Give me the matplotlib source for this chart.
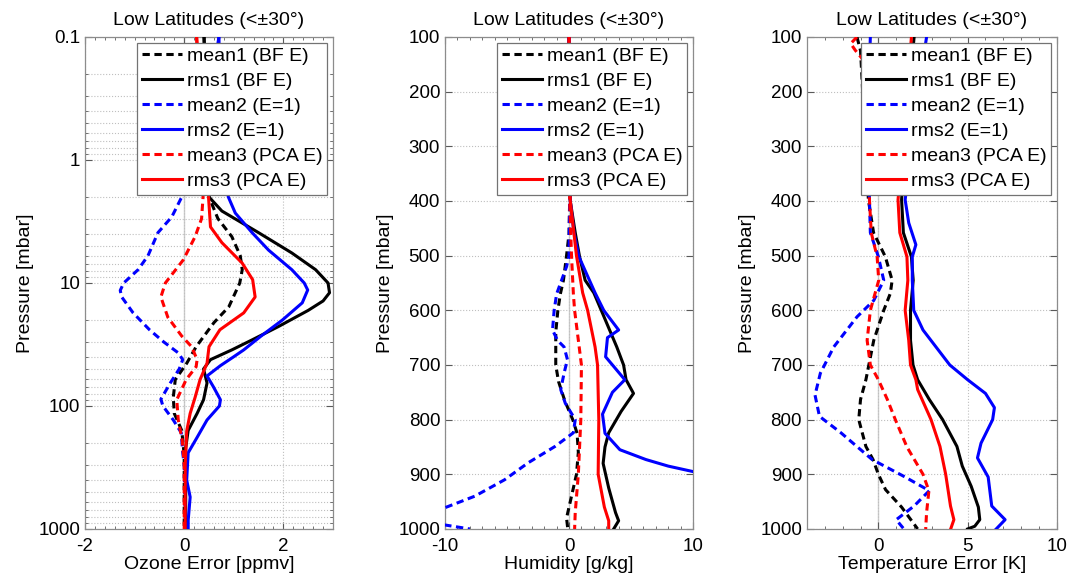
import numpy as np
import matplotlib
matplotlib.use("Agg")
import matplotlib.pyplot as plt

plt.rcParams["font.family"] = ["Liberation Sans", "DejaVu Sans"]
plt.rcParams["axes.unicode_minus"] = False

# ── Ozone panel (pressure in mbar, error in ppmv) ───────────────────────────
oz_p_mean1 = [0.1, 1, 2, 3, 4.2, 6, 7.8, 10, 15.6, 21, 33, 45, 61, 85, 115, 158, 250, 1000]
oz_mean1 = [0.4, 0.5, 0.5, 0.68, 0.96, 1.13, 1.17, 1.12, 0.9, 0.6, 0.24, 0.05, -0.18, -0.22, -0.2, -0.05, 0.0, 0.0]
oz_p_rms1 = [0.1, 1, 2, 2.6, 3.9, 5.7, 7.8, 10, 12, 14, 16.7, 22.6, 29, 35, 42, 50, 65, 89, 115, 158, 220, 1000]
oz_rms1 = [0.4, 0.45, 0.5, 0.76, 1.5, 2.17, 2.65, 2.9, 2.93, 2.8, 2.5, 1.9, 1.37, 0.96, 0.53, 0.39, 0.46, 0.39, 0.26, 0.08, 0.03, 0.03]
oz_p_mean2 = [0.1, 1, 2, 2.9, 3.9, 6, 7.8, 10, 11.5, 13, 17.5, 24, 30, 37, 42, 50, 65, 88, 100, 130, 165, 240, 300, 1000]
oz_mean2 = [0.7, 0.3, -0.05, -0.25, -0.53, -0.73, -0.93, -1.22, -1.29, -1.26, -1.03, -0.7, -0.42, -0.12, -0.03, -0.1, -0.28, -0.47, -0.43, -0.22, -0.06, -0.03, 0.0, 0.02]
oz_p_rms2 = [0.1, 1, 2, 2.7, 3.9, 5.4, 7.8, 10, 11.4, 14.5, 20, 27, 35, 40, 47, 57, 70, 89, 100, 130, 180, 240, 400, 550, 850, 1000]
oz_rms2 = [0.7, 0.75, 0.89, 1.03, 1.37, 1.7, 2.17, 2.42, 2.49, 2.38, 1.98, 1.55, 1.2, 0.99, 0.73, 0.46, 0.59, 0.73, 0.71, 0.46, 0.26, 0.08, 0.05, 0.12, 0.08, 0.08]
oz_p_mean3 = [0.1, 1, 2, 3, 4.2, 6.5, 10, 13, 19, 27, 33, 42, 48, 61, 89, 130, 190, 300, 1000]
oz_mean3 = [0.25, 0.35, 0.38, 0.35, 0.22, -0.02, -0.38, -0.47, -0.33, -0.05, 0.15, 0.26, 0.24, 0.04, -0.15, -0.12, -0.04, 0.0, 0.0]
oz_p_rms3 = [0.1, 1, 2, 3.5, 4.7, 6.9, 9.4, 13, 17.5, 24, 33, 45, 61, 85, 115, 160, 300, 1000]
oz_rms3 = [0.25, 0.45, 0.49, 0.53, 0.76, 1.17, 1.38, 1.43, 1.2, 0.72, 0.5, 0.46, 0.32, 0.22, 0.12, 0.05, 0.02, 0.02]

# ── Humidity panel (g/kg) ───────────────────────────────────────────────────
hu_p_mean1 = [100, 400, 460, 500, 545, 570, 600, 640, 700, 730, 765, 800, 825, 860, 900, 940, 980, 1000]
hu_mean1 = [0.0, 0.05, 0.0, -0.2, -0.45, -0.7, -0.9, -1.07, -1.07, -0.85, -0.35, 0.3, 0.65, 0.75, 0.6, 0.2, -0.2, -0.1]
hu_p_rms1 = [100, 400, 458, 502, 545, 568, 600, 667, 700, 727, 752, 785, 824, 850, 880, 925, 970, 985, 1000]
hu_rms1 = [0.0, 0.1, 0.5, 0.85, 1.3, 2.0, 2.6, 3.85, 4.4, 4.6, 5.2, 4.2, 3.2, 2.9, 2.75, 3.2, 3.75, 4.0, 3.6]
hu_p_mean2 = [100, 400, 500, 520, 570, 600, 636, 655, 667, 690, 715, 745, 770, 800, 824, 849, 879, 910, 940, 961, 977, 992, 1000]
hu_mean2 = [0.0, 0.05, 0.0, -0.2, -1.0, -1.2, -1.33, -0.93, -0.4, -0.13, -0.4, -0.67, -0.3, 0.5, 0.35, -1.13, -3.3, -5.2, -7.6, -10.0, -12.0, -10.2, -8.0]
hu_p_rms2 = [100, 400, 458, 502, 568, 600, 636, 650, 685, 727, 750, 790, 825, 855, 873, 885, 895, 920, 1000]
hu_rms2 = [0.0, 0.1, 0.4, 0.8, 2.1, 2.8, 4.0, 3.1, 2.95, 4.5, 3.5, 2.7, 2.9, 4.1, 6.2, 8.0, 10.0, 13.0, 16.0]
hu_p_mean3 = [100, 400, 500, 570, 600, 700, 800, 900, 970, 1000]
hu_mean3 = [0.0, 0.05, 0.2, 0.35, 0.45, 1.0, 0.95, 0.75, 0.5, 0.45]
hu_p_rms3 = [100, 400, 460, 500, 568, 600, 667, 700, 800, 900, 960, 985, 1000]
hu_rms3 = [0.0, 0.1, 0.4, 0.6, 1.1, 1.5, 2.1, 2.3, 2.4, 2.35, 2.85, 3.2, 3.2]

# ── Temperature panel (K) ───────────────────────────────────────────────────
te_p_mean1 = [100, 125, 250, 398, 458, 502, 545, 569, 600, 655, 727, 763, 800, 849, 873, 900, 928, 960, 1000]
te_mean1 = [-1.2, -1.0, -0.8, -0.56, -0.27, 0.39, 0.77, 0.67, 0.3, -0.26, -0.7, -1.0, -1.1, -0.7, -0.3, 0.0, 0.4, 1.3, 2.2]
te_p_rms1 = [100, 250, 398, 458, 502, 545, 600, 655, 700, 727, 763, 800, 849, 885, 922, 960, 983, 995, 1000]
te_rms1 = [2.0, 1.6, 1.3, 1.4, 1.85, 1.95, 1.8, 1.8, 1.94, 2.2, 2.85, 3.6, 4.4, 4.7, 5.2, 5.6, 5.68, 5.4, 5.0]
te_p_mean2 = [100, 250, 398, 458, 502, 545, 582, 612, 667, 715, 755, 794, 824, 873, 905, 930, 958, 983, 993, 1000]
te_mean2 = [-0.45, -0.6, -0.5, -0.45, 0.0, 0.3, -0.26, -1.2, -2.5, -3.25, -3.55, -3.3, -2.1, -0.35, 1.5, 2.85, 2.0, 1.0, 1.25, 1.43]
te_p_rms2 = [100, 250, 398, 440, 480, 502, 545, 600, 636, 700, 727, 752, 778, 800, 843, 870, 905, 958, 983, 1000]
te_rms2 = [2.7, 2.0, 1.5, 1.7, 2.1, 1.9, 1.9, 1.98, 2.5, 4.0, 5.0, 6.0, 6.5, 6.4, 5.75, 5.55, 6.15, 6.35, 7.1, 6.6]
te_p_mean3 = [100, 112, 124, 140, 250, 398, 458, 502, 545, 600, 655, 700, 727, 763, 800, 850, 900, 930, 970, 1000]
te_mean3 = [-1.2, -1.55, -1.3, -0.9, -0.7, -0.5, -0.4, -0.07, 0.02, -0.45, -0.63, -0.45, 0.0, 0.5, 0.95, 1.6, 2.5, 2.83, 2.7, 2.65]
te_p_rms3 = [100, 250, 398, 458, 502, 545, 600, 655, 700, 727, 745, 800, 849, 900, 958, 983, 1000]
te_rms3 = [1.85, 1.5, 1.1, 1.2, 1.6, 1.65, 1.5, 1.7, 1.8, 2.1, 2.2, 2.95, 3.45, 3.77, 4.04, 4.23, 4.05]

labels = ["mean1 (BF E)", "rms1 (BF E)", "mean2 (E=1)", "rms2 (E=1)", "mean3 (PCA E)", "rms3 (PCA E)"]
colors = ["black", "black", "#0000ff", "#0000ff", "#ff0000", "#ff0000"]
dashed = (0, (2.4, 1.5))
styles = [dashed, "-", dashed, "-", dashed, "-"]

panels = [
    dict(series=[(oz_mean1, oz_p_mean1), (oz_rms1, oz_p_rms1), (oz_mean2, oz_p_mean2),
                 (oz_rms2, oz_p_rms2), (oz_mean3, oz_p_mean3), (oz_rms3, oz_p_rms3)],
         xlim=(-2, 3), xticks=[-2, 0, 2], xminor=0.2, xlabel="Ozone Error [ppmv]", log=True),
    dict(series=[(hu_mean1, hu_p_mean1), (hu_rms1, hu_p_rms1), (hu_mean2, hu_p_mean2),
                 (hu_rms2, hu_p_rms2), (hu_mean3, hu_p_mean3), (hu_rms3, hu_p_rms3)],
         xlim=(-10, 10), xticks=[-10, 0, 10], xminor=1, xlabel="Humidity [g/kg]", log=False),
    dict(series=[(te_mean1, te_p_mean1), (te_rms1, te_p_rms1), (te_mean2, te_p_mean2),
                 (te_rms2, te_p_rms2), (te_mean3, te_p_mean3), (te_rms3, te_p_rms3)],
         xlim=(-4, 10), xticks=[0, 5, 10], xminor=1, xlabel="Temperature Error [K]", log=False),
]

lefts = [0.0796, 0.4167, 0.7556]
widths = [0.2322, 0.2322, 0.234]

fig = plt.figure(figsize=(10.68, 5.79), dpi=100)

for left, width, cfg in zip(lefts, widths, panels):
    ax = fig.add_axes([left, 0.0864, width, 0.8497])
    ax.axvline(0, color="0.8", lw=1.0, zorder=1)
    for (vals, pres), lab, col, ls in zip(cfg["series"], labels, colors, styles):
        ax.plot(vals, pres, color=col, linestyle=ls, lw=2.2, label=lab, zorder=3)

    if cfg["log"]:
        ax.set_yscale("log")
        ax.set_ylim(1000, 0.1)
        ax.set_yticks([0.1, 1, 10, 100, 1000])
        ax.set_yticklabels(["0.1", "1", "10", "100", "1000"])
        ax.grid(True, which="both", axis="y", color="0.75", linestyle=":", lw=0.8)
    else:
        ax.set_ylim(1000, 100)
        ax.set_yticks(np.arange(100, 1001, 100))
        ax.grid(True, which="major", axis="y", color="0.75", linestyle=":", lw=0.8)
    ax.grid(True, which="major", axis="x", color="0.75", linestyle=":", lw=0.8)

    ax.set_xlim(*cfg["xlim"])
    ax.set_xticks(cfg["xticks"])
    ax.xaxis.set_minor_locator(matplotlib.ticker.MultipleLocator(cfg["xminor"]))
    ax.tick_params(which="both", direction="in", top=True, right=True,
                   labelsize=13.5, color="0.35")
    ax.tick_params(which="major", length=5)
    ax.tick_params(which="minor", length=2.5)
    ax.tick_params(axis="x", pad=6.5)
    for sp in ax.spines.values():
        sp.set_color("0.55")
        sp.set_linewidth(0.9)

    ax.set_title("Low Latitudes (<±30°)", fontsize=14, pad=8.5)
    ax.set_xlabel(cfg["xlabel"], fontsize=14, labelpad=1)
    ax.set_ylabel("Pressure [mbar]", fontsize=14, labelpad=3)

    leg = ax.legend(loc="upper right", fontsize=14, handlelength=2.05, handletextpad=0.26,
                    labelspacing=0.38, borderpad=0.25, borderaxespad=0.3,
                    fancybox=False, framealpha=1.0, edgecolor="0.45")
    leg.get_frame().set_linewidth(0.9)

plt.savefig("out.png", dpi=100)
